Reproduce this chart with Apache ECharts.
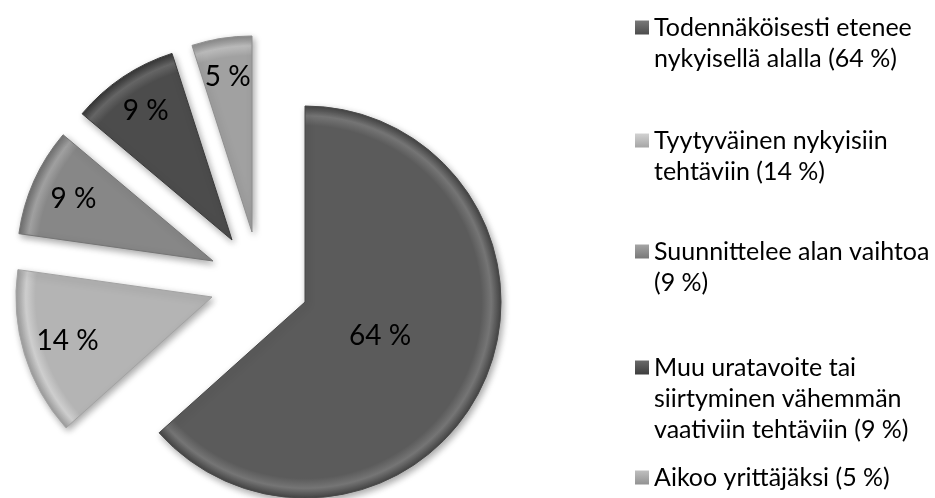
<!DOCTYPE html>
<html>
<head>
<meta charset="utf-8">
<script src="https://cdn.jsdelivr.net/npm/echarts@6/dist/echarts.min.js"></script>
<style>
html, body { margin: 0; padding: 0; background: #fff; }
#box { width: 935px; height: 498px; }
</style>
</head>
<body>
<div id="box"></div>
<script>
const categories = [
  'Todennäköisesti etenee nykyisellä alalla',
  'Tyytyväinen nykyisiin tehtäviin',
  'Suunnittelee alan vaihtoa',
  'Muu uratavoite tai siirtyminen vähemmän vaativiin tehtäviin',
  'Aikoo yrittäjäksi'
]
const values = [64, 14, 9, 9, 5]
// legend text as wrapped in the picture, the percentage is appended
const legendLabels = [
  'Todennäköisesti etenee\nnykyisellä alalla ',
  'Tyytyväinen nykyisiin\ntehtäviin ',
  'Suunnittelee alan vaihtoa\n',
  'Muu uratavoite tai\nsiirtyminen vähemmän\nvaativiin tehtäviin ',
  'Aikoo yrittäjäksi '
]

// layout: every slice is pulled out on its own
const R = 196
const centers = [[305, 302], [212, 297], [213, 261], [232, 240], [252, 232]]
const labelFrac = [0.42, 0.77, 0.78, 0.79, 0.8]
const colors = ['#5b5b5b', '#b4b4b4', '#878787', '#4c4c4c', '#a1a1a1']
const legendFirstLine = [25, 138, 249, 365, 475]
const LINE = 31

function shade(hex, amt) {
  const n = parseInt(hex.slice(1), 16)
  const c = [n >> 16, (n >> 8) & 255, n & 255].map(v => Math.max(0, Math.min(255, v + amt)))
  return 'rgb(' + c.join(',') + ')'
}

function sliceFill(i) {
  return {
    type: 'radial', x: centers[i][0], y: centers[i][1], r: R, global: true,
    colorStops: [
      { offset: 0, color: colors[i] },
      { offset: 0.9, color: colors[i] },
      { offset: 0.95, color: shade(colors[i], 26) },
      { offset: 1, color: shade(colors[i], -22) }
    ]
  }
}

const series = values.map((v, k) => ({
  type: 'pie',
  silent: true,
  animation: false,
  center: centers[k],
  radius: R,
  startAngle: 90,
  clockwise: true,
  avoidLabelOverlap: false,
  label: {
    position: 'inside',
    fontFamily: 'Lato',
    fontSize: 28,
    color: '#000',
    formatter: p => p.value + ' %'
  },
  labelLine: { show: false },
  emphasis: { disabled: true },
  labelLayout: function (p) {
    if (p.dataIndex !== k) return {}
    const c = centers[k]
    const lx = p.labelRect.x + p.labelRect.width / 2
    const ly = p.labelRect.y + p.labelRect.height / 2
    const d = Math.hypot(lx - c[0], ly - c[1]) || 1
    const f = labelFrac[k] * R / d - 1
    return { dx: (lx - c[0]) * f, dy: (ly - c[1]) * f }
  },
  data: values.map((val, i) => ({
    name: categories[i],
    value: val,
    itemStyle: i === k
      ? {
          color: sliceFill(i),
          borderWidth: 1,
          borderColor: shade(colors[i], -18),
          shadowBlur: 7,
          shadowOffsetX: 2,
          shadowOffsetY: 3,
          shadowColor: 'rgba(0,0,0,0.35)'
        }
      : { color: 'rgba(0,0,0,0)', borderWidth: 0 },
    label: { show: i === k }
  }))
}))

const legends = categories.map((name, i) => {
  const lines = (legendLabels[i] + '(' + values[i] + ' %)').split('\n')
  const n = lines.length
  const text = lines.map(s => '{t|' + s + '}').join('\n')
  return {
    data: [{
      name: name,
      itemStyle: {
        color: {
          type: 'linear', x: 0, y: 0, x2: 0, y2: 1,
          colorStops: [
            { offset: 0, color: shade(colors[i], 30) },
            { offset: 1, color: shade(colors[i], -15) }
          ]
        },
        borderWidth: 0
      }
    }],
    orient: 'vertical',
    left: 635,
    top: legendFirstLine[i] - 10,
    padding: 0,
    icon: 'rect',
    itemWidth: 14,
    itemHeight: 14,
    selectedMode: false,
    formatter: () => text,
    textStyle: {
      padding: [(n - 1) * LINE, 0, 0, 0],
      rich: {
        t: { fontFamily: 'Lato', fontSize: 25, lineHeight: LINE, color: '#000' }
      }
    }
  }
})

const myChart = echarts.init(document.getElementById('box'))
myChart.setOption({
  animation: false,
  legend: legends,
  series: series
})
</script>
</body>
</html>
